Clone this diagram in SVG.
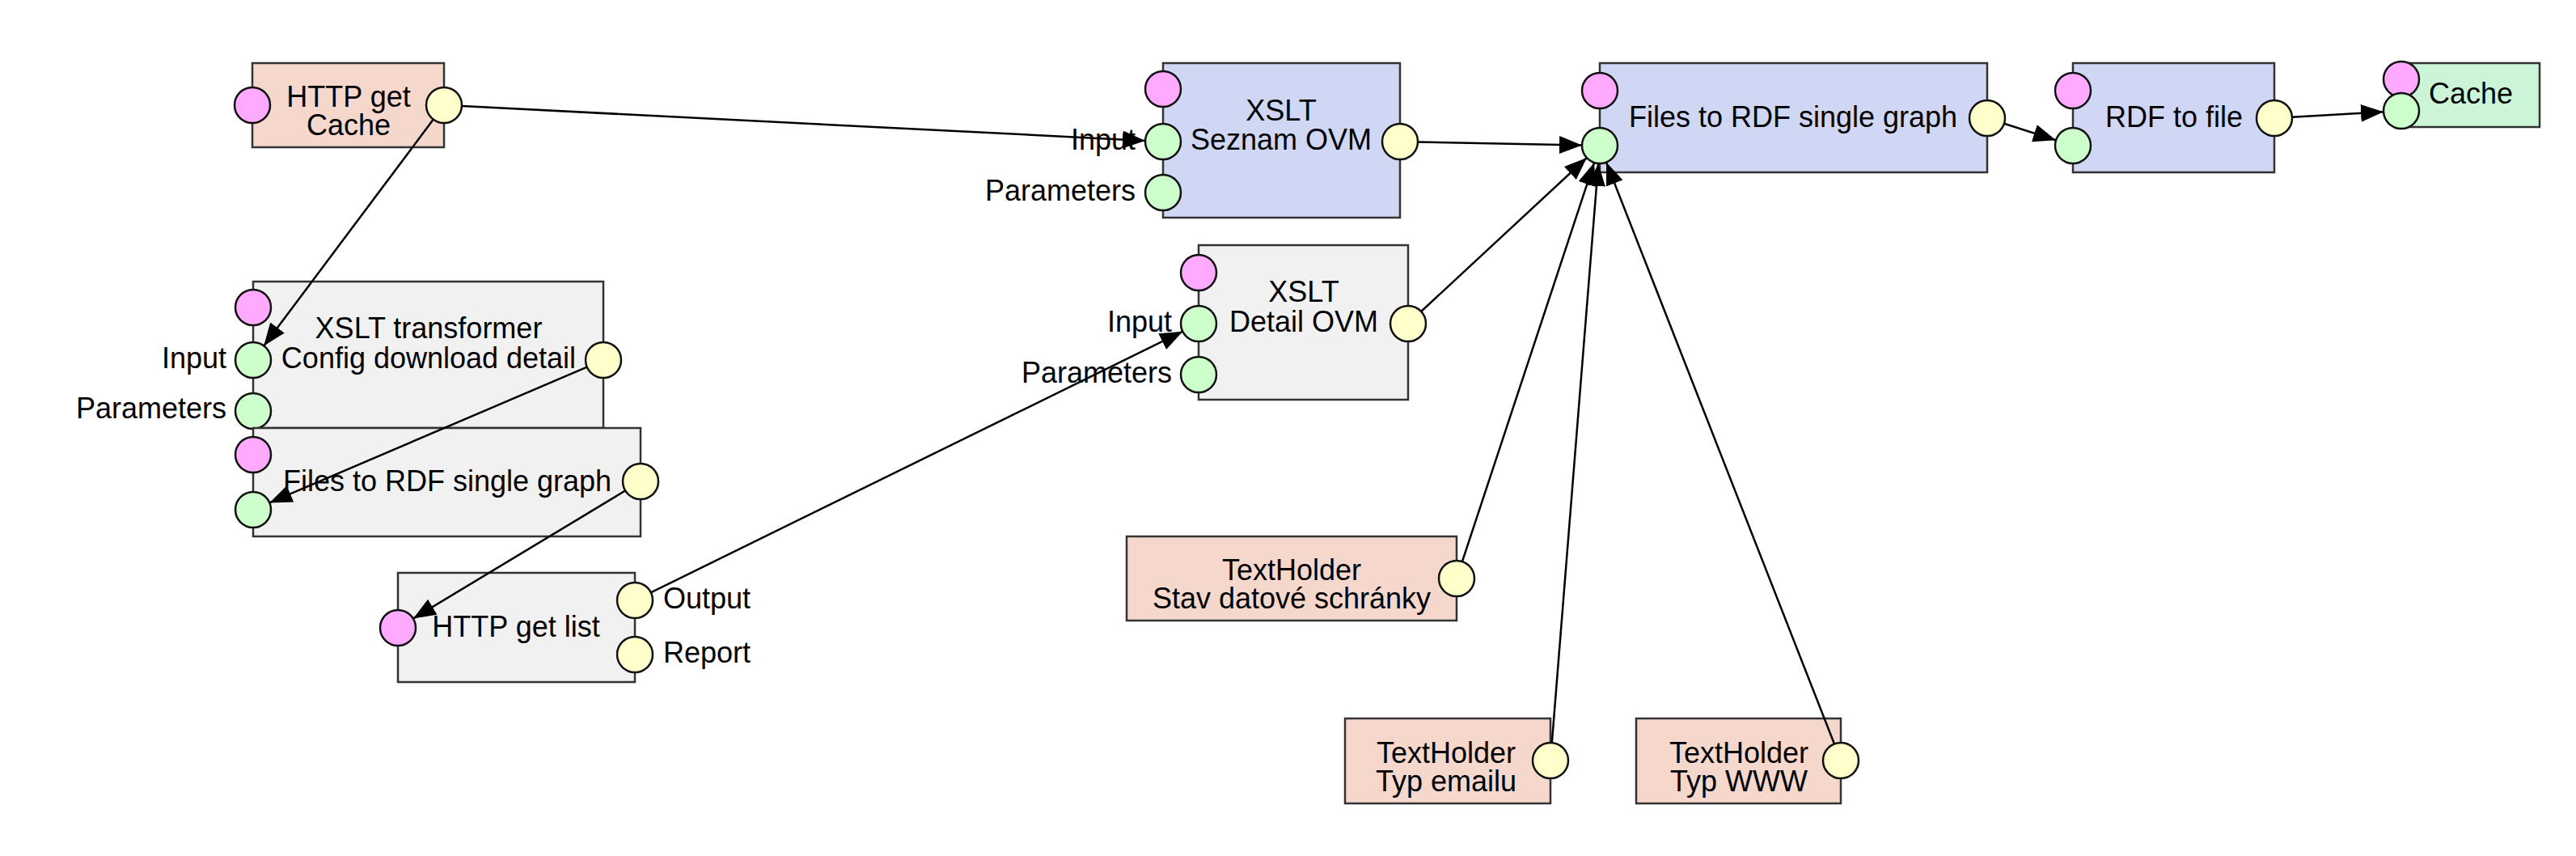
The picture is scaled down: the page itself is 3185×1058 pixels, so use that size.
<svg xmlns="http://www.w3.org/2000/svg" width="3185" height="1058" viewBox="0 0 3185 1058">
<defs>
<style>
.box{stroke:#333;stroke-width:2.5}
.salmon{fill:#F5D7CC}
.blue{fill:#CFD7F4}
.gray{fill:#F1F1F1}
.cgreen{fill:#CCF5D8}
.pin{fill:#FFAAFF;stroke:#111;stroke-width:2.5}
.pg{fill:#CCFFCC;stroke:#111;stroke-width:2.5}
.py{fill:#FFFFCC;stroke:#111;stroke-width:2.5}
text{font-family:"Liberation Sans",Arial,sans-serif;font-size:36px;fill:#000}
.c{text-anchor:middle}
.e{text-anchor:end}
.conn line{stroke:#000;stroke-width:2.5;marker-end:url(#arr)}
</style>
<marker id="arr" markerUnits="userSpaceOnUse" markerWidth="30" markerHeight="24" refX="28" refY="11" orient="auto"><path d="M0,0 L28,11 L0,22 z" fill="#000"/></marker>
</defs>
<rect width="3185" height="1058" fill="#fff"/>

<g id="http-get-cache">
<rect class="box salmon" x="312" y="78" width="237" height="104"/>
<circle class="pin" cx="312" cy="130" r="22"/>
<circle class="py" cx="549" cy="130" r="22"/>
<text class="c" x="431" y="132">HTTP get</text>
<text class="c" x="431" y="167">Cache</text>
</g>

<g id="xslt-transformer">
<rect class="box gray" x="313" y="348" width="433" height="181"/>
<circle class="pin" cx="313" cy="380" r="22"/>
<circle class="pg" cx="313" cy="445" r="22"/>
<circle class="pg" cx="313" cy="508" r="22"/>
<circle class="py" cx="746" cy="445" r="22"/>
<text class="c" x="530" y="418">XSLT transformer</text>
<text class="c" x="530" y="455">Config download detail</text>
<text class="e" x="280" y="455">Input</text>
<text class="e" x="280" y="517">Parameters</text>
</g>

<g id="files-to-rdf-left">
<rect class="box gray" x="313" y="529" width="479" height="134"/>
<circle class="pin" cx="313" cy="562" r="22"/>
<circle class="pg" cx="313" cy="630" r="22"/>
<circle class="py" cx="792" cy="595" r="22"/>
<text class="c" x="553" y="607">Files to RDF single graph</text>
</g>

<g id="http-get-list">
<rect class="box gray" x="492" y="708" width="293" height="135"/>
<circle class="pin" cx="492" cy="776" r="22"/>
<circle class="py" cx="785" cy="742" r="22"/>
<circle class="py" cx="785" cy="809" r="22"/>
<text class="c" x="638" y="787">HTTP get list</text>
<text x="820" y="752">Output</text>
<text x="820" y="819">Report</text>
</g>

<g id="xslt-seznam">
<rect class="box blue" x="1438" y="78" width="293" height="191"/>
<circle class="pin" cx="1438" cy="110" r="22"/>
<circle class="pg" cx="1438" cy="175" r="22"/>
<circle class="pg" cx="1438" cy="238" r="22"/>
<circle class="py" cx="1731" cy="175" r="22"/>
<text class="c" x="1584" y="149">XSLT</text>
<text class="c" x="1584" y="185">Seznam OVM</text>
<text class="e" x="1404" y="185">Input</text>
<text class="e" x="1404" y="248">Parameters</text>
</g>

<g id="xslt-detail">
<rect class="box gray" x="1482" y="303" width="259" height="191"/>
<circle class="pin" cx="1482" cy="337" r="22"/>
<circle class="pg" cx="1482" cy="400" r="22"/>
<circle class="pg" cx="1482" cy="463" r="22"/>
<circle class="py" cx="1741" cy="400" r="22"/>
<text class="c" x="1612" y="373">XSLT</text>
<text class="c" x="1612" y="410">Detail OVM</text>
<text class="e" x="1449" y="410">Input</text>
<text class="e" x="1449" y="473">Parameters</text>
</g>

<g id="files-to-rdf-main">
<rect class="box blue" x="1978" y="78" width="479" height="135"/>
<circle class="pin" cx="1978" cy="112" r="22"/>
<circle class="pg" cx="1978" cy="180" r="22"/>
<circle class="py" cx="2457" cy="146" r="22"/>
<text class="c" x="2217" y="157">Files to RDF single graph</text>
</g>

<g id="rdf-to-file">
<rect class="box blue" x="2563" y="78" width="249" height="135"/>
<circle class="pin" cx="2563" cy="112" r="22"/>
<circle class="pg" cx="2563" cy="180" r="22"/>
<circle class="py" cx="2812" cy="146" r="22"/>
<text class="c" x="2688" y="157">RDF to file</text>
</g>

<g id="cache">
<rect class="box cgreen" x="2969" y="78" width="171" height="79"/>
<circle class="pin" cx="2969" cy="98" r="22"/>
<circle class="pg" cx="2969" cy="137" r="22"/>
<text class="c" x="3055" y="128">Cache</text>
</g>

<g id="textholder-stav">
<rect class="box salmon" x="1393" y="663" width="408" height="104"/>
<circle class="py" cx="1801" cy="715" r="22"/>
<text class="c" x="1597" y="717">TextHolder</text>
<text class="c" x="1597" y="752">Stav datové schránky</text>
</g>

<g id="textholder-email">
<rect class="box salmon" x="1663" y="888" width="254" height="105"/>
<circle class="py" cx="1917" cy="940" r="22"/>
<text class="c" x="1788" y="943">TextHolder</text>
<text class="c" x="1788" y="978">Typ emailu</text>
</g>

<g id="textholder-www">
<rect class="box salmon" x="2023" y="888" width="253" height="105"/>
<circle class="py" cx="2276" cy="940" r="22"/>
<text class="c" x="2150" y="943">TextHolder</text>
<text class="c" x="2150" y="978">Typ WWW</text>
</g>

<g id="connectors" class="conn">
<line x1="571" y1="131.1" x2="1416" y2="173.9"/>
<line x1="535.8" y1="147.6" x2="326.2" y2="427.4"/>
<line x1="725.8" y1="453.6" x2="333.2" y2="621.4"/>
<line x1="773.2" y1="606.4" x2="510.8" y2="764.6"/>
<line x1="804.7" y1="732.3" x2="1462.3" y2="409.7"/>
<line x1="1753" y1="175.4" x2="1956" y2="179.6"/>
<line x1="1757.1" y1="385" x2="1961.9" y2="195"/>
<line x1="1807.9" y1="694.1" x2="1971.1" y2="200.9"/>
<line x1="1918.8" y1="918.1" x2="1976.2" y2="201.9"/>
<line x1="2268" y1="919.5" x2="1986" y2="200.5"/>
<line x1="2478" y1="152.7" x2="2542" y2="173.3"/>
<line x1="2834" y1="144.7" x2="2947" y2="138.3"/>
</g>
</svg>
